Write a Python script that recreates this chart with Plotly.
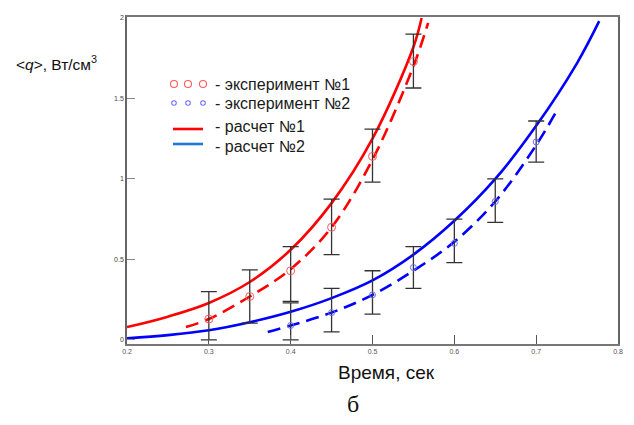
import plotly.graph_objects as go

# ---------------- data ----------------
exp1_x = [0.30, 0.35, 0.40, 0.45, 0.50, 0.55]
exp1_y = [0.13, 0.27, 0.43, 0.70, 1.14, 1.73]
exp1_hi = [0.30, 0.435, 0.58, 0.875, 1.31, 1.90]
exp1_lo = [0.00, 0.105, 0.24, 0.53, 0.98, 1.565]

exp2_x = [0.40, 0.45, 0.50, 0.55, 0.60, 0.65, 0.70]
exp2_y = [0.09, 0.17, 0.28, 0.45, 0.60, 0.86, 1.23]
exp2_hi = [0.23, 0.32, 0.43, 0.58, 0.75, 1.00, 1.36]
exp2_lo = [0.00, 0.05, 0.16, 0.32, 0.48, 0.73, 1.105]

calc1_x = [0.20, 0.25, 0.30, 0.35, 0.40, 0.45, 0.50, 0.55, 0.560]
calc1_y = [0.08, 0.145, 0.23, 0.36, 0.56, 0.85, 1.25, 1.82, 2.00]

calc1d_x = [0.272, 0.30, 0.35, 0.40, 0.45, 0.50, 0.55, 0.568]
calc1d_y = [0.08, 0.13, 0.27, 0.44, 0.70, 1.12, 1.70, 1.97]

calc2_x = [0.20, 0.25, 0.30, 0.35, 0.40, 0.45, 0.50, 0.55, 0.60, 0.65, 0.70, 0.75, 0.777]
calc2_y = [0.01, 0.03, 0.06, 0.11, 0.175, 0.26, 0.37, 0.53, 0.74, 1.00, 1.33, 1.72, 1.98]

calc2d_x = [0.372, 0.40, 0.45, 0.50, 0.55, 0.60, 0.65, 0.70, 0.727]
calc2d_y = [0.05, 0.09, 0.17, 0.28, 0.43, 0.61, 0.86, 1.21, 1.44]

x_ticks = [0.2, 0.3, 0.4, 0.5, 0.6, 0.7, 0.8]
y_ticks = [0, 0.5, 1, 1.5, 2]
x_tick_text = ["0.2", "0.3", "0.4", "0.5", "0.6", "0.7", "0.8"]
y_tick_text = ["0", "0.5", "1", "1.5", "2"]

legend_labels = ["- эксперимент №1", "- эксперимент №2", "- расчет №1", "- расчет №2"]
x_title = "Время, сек"
y_title = "&lt;<i>q</i>&gt;, Вт/см<sup>3</sup>"
caption = "б"

RED = "#ff0000"
BLUE = "#0000ff"

# ---------------- geometry ----------------
W, H = 634, 425
L, R, T, B = 127, 618, 17, 344

def px(x):
    return (x - L) / (R - L)

def py(y):
    return (B - y) / (B - T)

fig = go.Figure()

def line(xs, ys, color, dash=None):
    fig.add_trace(go.Scatter(x=xs, y=ys, mode="lines",
                             line=dict(color=color, width=2.6, shape="spline",
                                       smoothing=1.0, dash=dash),
                             hoverinfo="skip", showlegend=False))

line(calc1_x, calc1_y, RED)
line(calc1d_x, calc1d_y, RED, "13px,7px")
line(calc2_x, calc2_y, BLUE)
line(calc2d_x, calc2d_y, BLUE, "13px,7px")

def exp(xs, ys, hi, lo, color, size):
    fig.add_trace(go.Scatter(
        x=xs, y=ys, mode="markers",
        marker=dict(symbol="circle-open", size=size, color=color, line=dict(width=1)),
        error_y=dict(type="data", symmetric=False,
                     array=[h - v for h, v in zip(hi, ys)],
                     arrayminus=[v - l for v, l in zip(ys, lo)],
                     color="#333333", thickness=1.3, width=8),
        showlegend=False, hoverinfo="skip"))

exp(exp1_x, exp1_y, exp1_hi, exp1_lo, "#ff5a5a", 8)
exp(exp2_x, exp2_y, exp2_hi, exp2_lo, "#6a6aff", 6)

# legend glyphs drawn on an overlay pixel axis
leg_rows = [84, 103, 129, 144]
fig.add_trace(go.Scatter(x=[174, 188, 203], y=[leg_rows[0]] * 3, mode="markers",
                         marker=dict(symbol="circle-open", size=7, color="#ff5a5a", line=dict(width=1.1)),
                         xaxis="x2", yaxis="y2", showlegend=False, hoverinfo="skip"))
fig.add_trace(go.Scatter(x=[174, 188, 203], y=[leg_rows[1]] * 3, mode="markers",
                         marker=dict(symbol="circle-open", size=4.5, color="#6a6aff", line=dict(width=1.1)),
                         xaxis="x2", yaxis="y2", showlegend=False, hoverinfo="skip"))
fig.add_trace(go.Scatter(x=[173, 203], y=[leg_rows[2]] * 2, mode="lines",
                         line=dict(color=RED, width=2.6),
                         xaxis="x2", yaxis="y2", showlegend=False, hoverinfo="skip"))
fig.add_trace(go.Scatter(x=[173, 203], y=[leg_rows[3]] * 2, mode="lines",
                         line=dict(color="#1f78d8", width=2.6),
                         xaxis="x2", yaxis="y2", showlegend=False, hoverinfo="skip"))

ann = []
text_y = [84, 103, 127, 146]
for lbl, yy in zip(legend_labels, text_y):
    ann.append(dict(x=px(213), y=py(yy), xref="paper", yref="paper", text=lbl,
                    showarrow=False, xanchor="left", yanchor="middle",
                    font=dict(family="Liberation Sans, Arial", size=16, color="#1a1a1a")))
ann.append(dict(x=px(14), y=py(63), xref="paper", yref="paper", text=y_title,
                showarrow=False, xanchor="left", yanchor="middle",
                font=dict(family="Liberation Sans, Arial", size=15.5, color="#111")))
ann.append(dict(x=px(386), y=py(372), xref="paper", yref="paper", text=x_title,
                showarrow=False, xanchor="center", yanchor="middle",
                font=dict(family="Liberation Sans, Arial", size=19, color="#111")))
ann.append(dict(x=px(353), y=py(404), xref="paper", yref="paper", text=caption,
                showarrow=False, xanchor="center", yanchor="middle",
                font=dict(family="Liberation Serif", size=24, color="#111")))

fig.update_layout(
    width=W, height=H,
    margin=dict(l=L, r=W - R, t=T, b=H - B),
    paper_bgcolor="white", plot_bgcolor="white",
    showlegend=False,
    annotations=ann,
    xaxis=dict(range=[0.2, 0.8], tickvals=x_ticks, ticktext=x_tick_text,
               ticks="inside", ticklen=9, tickcolor="#555", tickwidth=1.3,
               showline=True, linecolor="#777", linewidth=1.5, mirror=True,
               showgrid=False, zeroline=False,
               tickfont=dict(family="Liberation Sans, Arial", size=7, color="#555")),
    yaxis=dict(range=[-0.025, 2.006], tickvals=y_ticks, ticktext=y_tick_text,
               ticks="inside", ticklen=8, tickcolor="#888", tickwidth=1.3,
               showline=True, linecolor="#666", linewidth=1.5, mirror=True,
               showgrid=False, zeroline=False,
               tickfont=dict(family="Liberation Sans, Arial", size=7, color="#444")),
    xaxis2=dict(range=[L, R], overlaying="x", visible=False, fixedrange=True),
    yaxis2=dict(range=[B, T], overlaying="y", visible=False, fixedrange=True),
)

fig.write_html("out.html", config={"displayModeBar": False},
               post_script="document.body.style.margin='0';document.body.style.overflow='hidden';")
